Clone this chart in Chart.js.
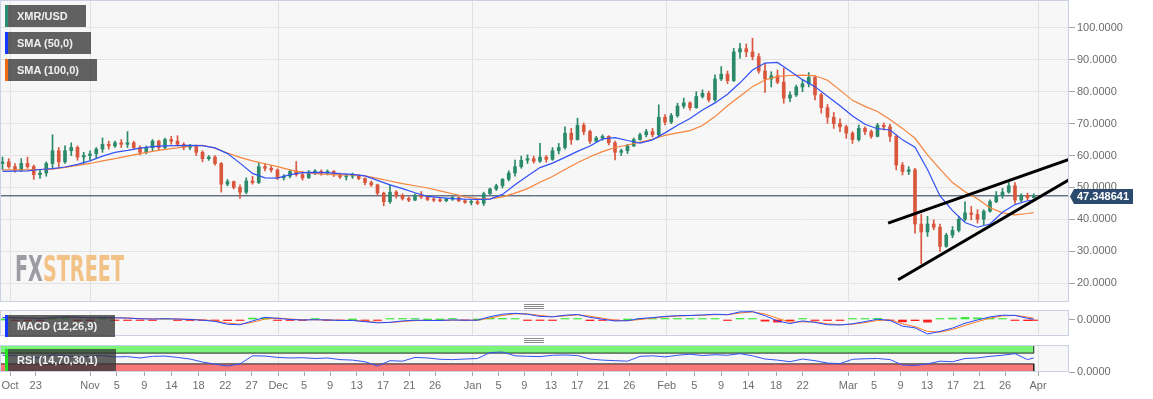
<!DOCTYPE html>
<html><head><meta charset="utf-8">
<script src="https://cdn.jsdelivr.net/npm/chart.js@4.4.1/dist/chart.umd.min.js"></script>
<style>
html,body{margin:0;padding:0;background:#fff;}
body{width:1153px;height:399px;position:relative;overflow:hidden;font-family:"Liberation Sans",Arial,sans-serif;}
canvas{position:absolute;left:0;display:block}
#cMain{top:0;width:1153px;height:302px}
#cMacd{top:310px;width:1153px;height:26px}
#cRsi{top:345px;width:1153px;height:54px}
.tag{position:absolute;left:5px;height:22px;line-height:22px;background:rgba(50,50,50,0.76);color:#f0f0f0;font-weight:bold;font-size:11px;padding:0 18px 0 9px;border-left:3px solid #000;white-space:nowrap;z-index:5}
.grip{position:absolute;left:524px;width:20px;height:1px;background:#8c8c8c;z-index:5}
#logo{position:absolute;left:15px;top:251px;font-family:"Liberation Sans Narrow","DejaVu Sans Condensed",sans-serif;font-weight:bold;font-size:36px;line-height:36px;white-space:nowrap;transform-origin:0 0;z-index:4}
</style></head><body>
<canvas id="cMain" width="1153" height="302"></canvas>
<canvas id="cMacd" width="1153" height="26"></canvas>
<canvas id="cRsi" width="1153" height="54"></canvas>
<div id="logo"><span style="color:#9b9ca4">FX</span><span style="color:#f2c287">STREET</span></div>
<div class="tag" style="top:5px;border-left-color:#2a8f72">XMR/USD</div>
<div class="tag" style="top:32px;border-left-color:#1438ff">SMA (50,0)</div>
<div class="tag" style="top:59px;border-left-color:#f26a12">SMA (100,0)</div>
<div class="tag" style="top:315px;border-left-color:#1438ff">MACD (12,26,9)</div>
<div class="tag" style="top:349px;border-left-color:#22e022">RSI (14,70,30,1)</div>
<div class="grip" style="top:304px"></div><div class="grip" style="top:306px"></div><div class="grip" style="top:308px"></div>
<div class="grip" style="top:338px"></div><div class="grip" style="top:340px"></div><div class="grip" style="top:342px"></div>
<script>
// ---------- DATA (day index 0 = 18 Oct 2019, one candle per day) ----------
const opens = [57.5,58.0,56.5,55.5,57.5,56.5,54.0,54.5,57.5,61.5,
58.0,61.5,62.5,59.5,60.0,60.5,62.0,63.5,63.0,64.0,
63.5,64.0,62.5,61.0,62.5,64.5,62.5,65.0,64.5,63.5,
62.5,62.8,61.0,59.0,59.5,57.5,51.0,51.8,50.0,48.5,
52.0,51.5,56.5,56.0,55.5,53.0,53.5,55.0,54.0,53.0,
54.8,55.0,54.5,55.0,54.0,53.3,53.5,53.8,52.8,51.5,
50.8,48.2,45.5,48.5,47.5,46.5,46.0,47.5,47.0,46.2,
46.0,45.8,46.3,46.8,45.8,45.3,45.5,45.0,48.0,49.5,
50.5,52.5,54.5,56.5,58.5,59.0,58.2,59.5,58.8,61.5,
62.5,67.0,65.0,69.5,67.5,64.5,65.5,66.0,64.0,61.0,
61.5,63.0,65.0,66.5,67.5,66.5,72.0,70.5,72.5,75.5,
76.5,75.0,78.5,79.5,77.5,84.0,85.5,83.5,92.5,93.5,
92.5,91.0,86.5,84.0,85.0,83.0,78.0,79.0,81.5,82.5,
84.5,79.0,75.0,72.0,70.0,69.0,67.0,65.0,68.5,67.5,
66.0,69.5,69.0,66.0,57.0,55.0,55.5,38.5,36.0,38.5,
37.5,31.5,35.0,36.5,40.0,42.0,41.5,40.0,42.5,45.5,
47.5,48.5,50.5,46.0,47.5,46.8];
const highs = [59.5,59.0,57.5,59.0,59.5,57.0,55.5,58.0,66.5,62.5,
63.0,64.0,63.0,61.0,61.5,62.5,65.5,64.5,64.5,65.0,
67.5,64.5,63.0,63.0,65.0,64.8,65.5,66.0,66.2,64.0,
63.5,63.3,61.5,60.0,60.0,57.8,52.5,52.0,50.8,53.0,
53.5,57.8,57.5,56.8,55.8,54.0,55.5,58.1,55.0,55.3,
55.6,55.5,55.5,55.3,54.5,54.0,54.5,54.0,53.0,52.0,
51.0,48.5,50.8,49.0,48.0,47.0,48.0,48.7,47.3,46.8,
46.8,46.6,47.3,47.0,46.2,46.0,46.0,48.5,49.8,51.0,
52.8,55.2,58.6,59.8,60.2,59.8,63.8,60.0,62.5,63.8,
69.0,68.5,71.7,70.2,68.0,66.0,66.5,66.2,64.5,62.0,
63.5,65.5,67.0,68.2,68.5,75.9,72.8,73.2,76.4,78.0,
76.8,80.0,80.6,80.2,85.3,87.9,86.5,93.6,95.2,95.0,
96.8,92.0,89.0,86.3,86.8,87.4,80.0,82.1,83.7,86.0,
85.0,79.5,76.0,73.5,71.5,69.5,67.5,69.6,69.0,68.0,
70.1,70.2,69.8,66.5,57.8,56.5,56.0,41.5,40.9,39.8,
38.5,35.6,37.7,40.9,45.5,44.0,43.0,43.0,46.1,48.7,
49.7,51.5,51.5,48.0,48.2,48.0];
const lows = [55.5,56.0,54.8,55.0,56.0,52.5,52.8,53.5,56.0,56.5,
57.5,60.0,58.5,57.5,58.5,59.0,61.0,62.0,62.5,62.5,
62.5,62.0,60.2,60.5,61.5,61.8,62.0,63.5,63.0,61.8,
61.8,60.0,58.0,58.5,57.0,48.5,50.5,49.5,46.5,48.0,
51.0,51.2,55.2,54.8,52.5,52.3,53.0,53.5,52.3,52.8,
54.0,53.8,53.9,53.4,52.8,52.3,52.8,52.4,50.8,50.3,
47.6,44.2,45.0,46.6,46.0,45.5,45.8,46.5,45.8,45.5,
45.4,45.5,45.9,45.5,45.0,44.5,44.6,44.3,47.8,49.0,
49.8,52.0,53.5,56.0,57.5,57.6,57.8,57.9,58.5,60.5,
62.0,63.5,64.8,66.5,63.8,64.3,64.8,63.3,58.6,60.0,
60.6,62.8,64.8,65.8,65.8,66.0,69.6,70.0,72.0,74.8,
74.2,74.8,78.0,76.8,77.0,83.5,82.6,83.2,90.5,91.0,
90.0,85.8,79.8,81.5,82.5,76.4,76.9,78.5,80.0,81.5,
77.4,73.3,70.1,68.5,67.5,65.4,63.8,64.5,66.5,65.4,
65.8,68.0,64.4,55.5,53.9,54.0,35.6,26.0,34.6,36.7,
29.9,31.2,34.2,36.0,39.5,39.8,38.8,38.3,42.2,45.2,
46.6,48.2,45.0,45.5,46.1,46.6];
const closes = [58.0,56.5,55.5,57.5,56.5,54.0,54.5,57.5,61.5,58.0,
61.5,62.5,59.5,60.0,60.5,62.0,63.5,63.0,64.0,63.5,
64.0,62.5,61.0,62.5,64.5,62.5,65.0,64.5,63.5,62.5,
62.8,61.0,59.0,59.5,57.5,51.0,51.8,50.0,48.5,52.0,
51.5,56.5,56.0,55.5,53.0,53.5,55.0,54.0,53.0,54.8,
55.0,54.5,55.0,54.0,53.3,53.5,53.8,52.8,51.5,50.8,
48.2,45.5,48.5,47.5,46.5,46.0,47.5,47.0,46.2,46.0,
45.8,46.3,46.8,45.8,45.3,45.5,45.0,48.0,49.5,50.5,
52.5,54.5,56.5,58.5,59.0,58.2,59.5,58.8,61.5,62.5,
67.0,65.0,69.5,67.5,64.5,65.5,66.0,64.0,61.0,61.5,
63.0,65.0,66.5,67.5,66.5,72.0,70.5,72.5,75.5,76.5,
75.0,78.5,79.5,77.5,84.0,85.5,83.5,92.5,93.5,92.5,
91.0,86.5,84.0,85.0,83.0,78.0,79.0,81.5,82.5,84.5,
79.0,75.0,72.0,70.0,69.0,67.0,65.0,68.5,67.5,66.0,
69.5,69.0,66.0,57.0,55.0,55.5,38.5,36.0,38.5,37.5,
31.5,35.0,36.5,40.0,42.0,41.5,40.0,42.5,45.5,47.5,
48.5,50.5,46.0,47.5,46.8,47.348641];

// indicator samples (every second day)
const sampleDays = [0,2,4,6,8,10,12,14,16,18,20,22,24,26,28,30,32,34,36,38,40,42,44,46,48,50,52,54,56,58,60,62,64,66,68,70,72,74,76,78,80,82,84,86,88,90,92,94,96,98,100,102,104,106,108,110,112,114,116,118,120,122,124,126,128,130,132,134,136,138,140,142,144,146,148,150,152,154,156,158,160,162,164,165];
const sma50 = [55.0,55.1,55.2,55.6,55.9,56.4,57.2,58.3,59.8,61.0,
61.6,62.3,62.8,63.0,63.1,63.2,63.1,62.4,60.6,57.6,
54.4,53.0,52.9,54.0,54.6,54.7,54.6,54.3,54.1,53.6,
52.2,50.8,49.6,48.3,47.2,46.8,46.5,46.3,46.2,46.3,
47.8,50.8,53.6,56.2,57.6,59.4,61.3,63.0,65.2,65.6,
64.7,63.9,64.9,67.1,69.5,71.6,74.3,76.5,79.2,82.8,
86.8,89.0,89.2,86.5,83.8,81.6,78.6,75.6,72.4,69.8,
68.4,68.0,64.9,62.6,55.6,47.3,42.7,39.0,37.5,38.5,
42.2,44.6,45.8,46.0];
const sma100 = [55.5,55.5,55.5,55.6,55.7,56.3,56.9,57.5,58.3,59.0,
59.8,60.6,61.3,61.9,62.4,63.0,63.2,62.3,60.8,59.4,
58.3,57.4,56.5,55.5,54.8,54.3,54.1,53.9,53.9,53.6,
52.8,52.0,51.2,50.5,49.8,48.9,48.0,47.0,46.5,46.4,
47.0,48.2,49.6,51.6,53.4,55.6,57.7,59.6,61.2,62.5,
63.3,64.2,65.1,66.3,67.1,67.8,69.4,72.2,75.6,78.6,
81.6,83.7,84.8,85.1,85.2,85.0,83.6,80.5,77.3,75.4,
73.8,71.3,68.5,65.4,60.2,55.7,51.5,48.6,46.4,43.6,
42.0,41.4,41.8,42.1];
const macdLine = [0.8,0.7,0.6,0.4,0.9,1.1,0.9,0.7,0.8,0.7,
0.6,0.3,0.2,0.3,0.2,0.0,-0.3,-0.8,-2.0,-2.2,
-0.6,0.9,0.5,0.0,-0.2,-0.1,-0.2,-0.4,-0.4,-0.9,
-1.4,-1.2,-0.6,-0.3,-0.4,-0.4,-0.2,-0.3,-0.3,1.2,
2.2,2.6,2.2,1.3,1.1,1.8,2.1,0.9,0.1,-0.6,
-0.5,0.4,0.8,1.3,1.6,1.7,1.9,2.2,2.0,3.2,
3.3,1.6,-0.6,-1.7,-0.6,-1.2,-2.2,-2.3,-1.8,-0.9,
0.1,-0.4,-2.8,-3.5,-6.1,-5.0,-3.6,-1.6,-0.2,1.1,
1.8,1.7,0.5,0.1];
const signalLine = [0.8,0.75,0.65,0.5,0.7,0.95,0.95,0.8,0.75,0.72,
0.63,0.4,0.25,0.25,0.22,0.08,-0.15,-0.55,-1.5,-2.0,
-1.2,0.2,0.6,0.2,-0.1,-0.12,-0.18,-0.33,-0.4,-0.7,
-1.2,-1.25,-0.85,-0.45,-0.4,-0.4,-0.28,-0.28,-0.3,0.6,
1.7,2.4,2.35,1.7,1.2,1.5,1.95,1.4,0.5,-0.3,
-0.5,0.0,0.6,1.1,1.45,1.65,1.8,2.05,2.05,2.7,
3.2,2.3,0.5,-1.1,-1.0,-1.0,-1.8,-2.2,-2.0,-1.3,
-0.4,-0.2,-1.8,-3.0,-5.0,-5.3,-4.2,-2.5,-0.9,0.6,
1.5,1.75,1.0,0.5];
const macdHist = [0,-0.05,-0.05,-0.1,0.2,0.15,-0.05,-0.1,0.05,-0.02,
-0.03,-0.1,-0.05,0.05,-0.02,-0.08,-0.15,-0.25,-0.5,-0.2,
0.6,0.7,-0.1,-0.2,-0.1,0.02,-0.02,-0.07,0,-0.2,
-0.2,0.05,0.25,0.15,0,0,0.08,-0.02,0,0.6,
0.5,0.2,-0.15,-0.4,-0.1,0.3,0.15,-0.5,-0.4,-0.3,
0,0.4,0.2,0.2,0.15,0.05,0.1,0.15,-0.05,0.5,
0.1,-0.7,-1.1,-0.6,0.4,-0.2,-0.4,-0.1,0.2,0.4,
0.5,-0.2,-1.0,-0.5,-1.1,0.3,0.6,0.9,0.7,0.5,
0.3,-0.05,-0.5,-0.4];
const rsiLine = [62,60,56,52,64,60,57,58,61,56,
57,52,58,59,54,48,37,29,22,30,
60,59,54,52,53,50,52,46,44,38,
22,42,40,54,52,47,46,48,50,72,
74,60,58,57,62,63,61,48,44,42,
40,58,60,56,62,66,61,64,62,68,
60,48,44,38,48,42,33,31,47,49,
50,46,26,24,30,40,38,50,52,58,
62,68,46,52];
const rsiUpper = 70, rsiLower = 30;

// trend lines (start / end)
const trendUpperX = [141.7, 170.64], trendUpperY = [38.8, 58.8];
const trendLowerX = [143.3, 170.64], trendLowerY = [21.0, 52.4];

// axis ticks
const priceTicks = [20,30,40,50,60,70,80,90,100];
const tickPos = [1.2,5.31,14.0,18.27,22.67,27.04,31.36,35.65,39.87,44.11,48.24,52.4,56.67,60.88,65.09,69.2,75.23,79.36,83.49,87.76,91.97,96.13,100.29,106.27,110.69,114.96,119.33,123.76,128.03,135.33,139.44,143.68,147.92,152.08,156.24,160.4,165.68];
const tickLabels = ["Oct","23","Nov","5","9","14","18","22","27","Dec","5","9","13","17","21","26","Jan","5","9","13","17","21","26","Feb","5","9","14","18","22","Mar","5","9","13","17","21","26","Apr"];
const monthNames = ["Oct","Nov","Dec","Jan","Feb","Mar","Apr"];

// ---------- CHARTS ----------
const X_MIN = -0.4, X_MAX = 170.64;
const AXIS_W = 84;
const GREEN = '#2a8a6a', RED = '#d9573d';
Chart.defaults.font.family = '"Liberation Sans", Arial, sans-serif';
Chart.defaults.font.size = 11;

const panelPlugin = {
  id: 'panel',
  beforeDraw(chart) {
    const a = chart.chartArea, c = chart.ctx;
    c.save(); c.fillStyle = '#f7f7f7'; c.fillRect(a.left, a.top, a.right - a.left, a.bottom - a.top); c.restore();
  },
  afterDraw(chart) {
    const a = chart.chartArea, c = chart.ctx;
    c.save(); c.strokeStyle = '#cbd1e4'; c.lineWidth = 1;
    c.strokeRect(a.left + 0.5, a.top + 0.5, a.right - a.left - 1, a.bottom - a.top - 1); c.restore();
  }
};

function xScale(showLabels) {
  return {
    type: 'linear', min: X_MIN, max: X_MAX, offset: false,
    afterBuildTicks: s => { s.ticks = tickPos.map(v => ({ value: v })); },
    ticks: { display: showLabels, autoSkip: false, maxRotation: 0, minRotation: 0, padding: 3, color: '#6e6e6e',
      callback: (v, i) => tickLabels[i] },
    grid: { offset: false, color: ctx => monthNames.includes(tickLabels[ctx.index]) ? '#e1e1e1' : 'rgba(0,0,0,0)',
      drawTicks: showLabels, tickLength: 4, tickColor: '#a5a5a5' },
    border: { display: false },
    afterFit: s => { s.height = showLabels ? 27 : 0; s.paddingLeft = 0; s.paddingRight = 0; }
  };
}
function yScale(min, max, ticks, gridColor) {
  return {
    position: 'right', min, max,
    afterBuildTicks: s => { s.ticks = ticks.map(v => ({ value: v })); },
    ticks: { color: '#6b6b6b', padding: 2, callback: v => v.toFixed(4) },
    grid: { color: gridColor, tickLength: 6, tickColor: '#a5a5a5', drawTicks: true },
    border: { display: false },
    afterFit: s => { s.width = AXIS_W; s.paddingTop = 0; s.paddingBottom = 0; }
  };
}
const baseOpts = { responsive: false, animation: false, events: [], devicePixelRatio: 1,
  layout: { padding: 0 }, plugins: { legend: { display: false }, tooltip: { enabled: false } } };

// main price panel
const lastPrice = closes[closes.length - 1];
const priceLabelPlugin = {
  id: 'priceLabel',
  afterDraw(chart) {
    const c = chart.ctx, y = Math.round(chart.scales.y.getPixelForValue(lastPrice)) + 0.5, x0 = chart.chartArea.right;
    c.save(); c.fillStyle = '#2c4a6e'; c.beginPath();
    c.moveTo(x0 + 1, y); c.lineTo(x0 + 5, y - 7.5); c.lineTo(x0 + 64, y - 7.5); c.lineTo(x0 + 64, y + 7.5); c.lineTo(x0 + 5, y + 7.5);
    c.closePath(); c.fill();
    c.fillStyle = '#ffffff'; c.font = 'bold 11px "Liberation Sans", Arial, sans-serif'; c.textBaseline = 'middle'; c.textAlign = 'left';
    c.fillText(lastPrice.toFixed(6), x0 + 8, y + 0.5); c.restore();
  }
};
const candleColor = ctx => closes[ctx.dataIndex] >= opens[ctx.dataIndex] ? GREEN : RED;
const line = (data, color, width, order) => ({ type: 'line', data, borderColor: color, borderWidth: width, pointRadius: 0, fill: false, tension: 0, order });

new Chart(document.getElementById('cMain'), {
  type: 'bar',
  data: { datasets: [
    line(trendUpperX.map((x, i) => ({ x, y: trendUpperY[i] })), '#000', 3, 0),
    line(trendLowerX.map((x, i) => ({ x, y: trendLowerY[i] })), '#000', 3, 0),
    line(sampleDays.map((x, i) => ({ x, y: sma50[i] })), '#3050f8', 1.2, 1),
    line(sampleDays.map((x, i) => ({ x, y: sma100[i] })), '#f5843c', 1.2, 1),
    { type: 'bar', data: lows.map((l, i) => ({ x: i, y: [l, highs[i]] })), backgroundColor: candleColor, barThickness: 1, grouped: false, order: 2 },
    { type: 'bar', data: opens.map((o, i) => ({ x: i, y: [o, closes[i]] })), backgroundColor: candleColor, barThickness: 3, grouped: false, minBarLength: 1, order: 2 },
    line([{ x: X_MIN, y: lastPrice }, { x: X_MAX, y: lastPrice }], '#22344f', 1, 3)
  ] },
  options: Object.assign({}, baseOpts, {
    scales: { x: xScale(false), y: yScale(14.04, 108.78, priceTicks, '#e3e3e3') }
  }),
  plugins: [panelPlugin, priceLabelPlugin]
});

// MACD panel
new Chart(document.getElementById('cMacd'), {
  type: 'bar',
  data: { datasets: [
    line(sampleDays.map((x, i) => ({ x, y: macdLine[i] })), '#2448ff', 1, 0),
    line(sampleDays.map((x, i) => ({ x, y: signalLine[i] })), '#ff7a22', 1, 1),
    { type: 'bar', data: sampleDays.map((x, i) => ({ x, y: macdHist[i] })), grouped: false, barThickness: 8, minBarLength: 1,
      backgroundColor: ctx => macdHist[ctx.dataIndex] >= 0 ? '#3ee83e' : '#ff1e1e', order: 2 }
  ] },
  options: Object.assign({}, baseOpts, {
    scales: { x: xScale(false), y: yScale(-6.93, 3.99, [0], 'rgba(0,0,0,0)') }
  }),
  plugins: [panelPlugin]
});

// RSI panel
const LAST_X = sampleDays[sampleDays.length - 1];
new Chart(document.getElementById('cRsi'), {
  type: 'line',
  data: { datasets: [
    line(sampleDays.map((x, i) => ({ x, y: rsiLine[i] })), '#3552f0', 1, 0),
    { data: [{ x: X_MIN, y: rsiUpper }, { x: LAST_X, y: rsiUpper }, { x: LAST_X, y: 100 }], borderColor: '#262626', borderWidth: 1,
      pointRadius: 0, fill: { value: 100 }, backgroundColor: '#7af57a', order: 2 },
    { data: [{ x: X_MIN, y: rsiLower }, { x: LAST_X, y: rsiLower }, { x: LAST_X, y: 0 }], borderColor: '#262626', borderWidth: 1,
      pointRadius: 0, fill: { value: 0 }, backgroundColor: '#f77878', order: 2 }
  ] },
  options: Object.assign({}, baseOpts, {
    scales: { x: xScale(true), y: yScale(0, 100, [0], 'rgba(0,0,0,0)') }
  }),
  plugins: [panelPlugin]
});

// fit watermark width
const logo = document.getElementById('logo');
const lw = logo.getBoundingClientRect().width;
if (lw > 0) logo.style.transform = 'scaleX(' + (109 / lw) + ')';
</script>
</body></html>
